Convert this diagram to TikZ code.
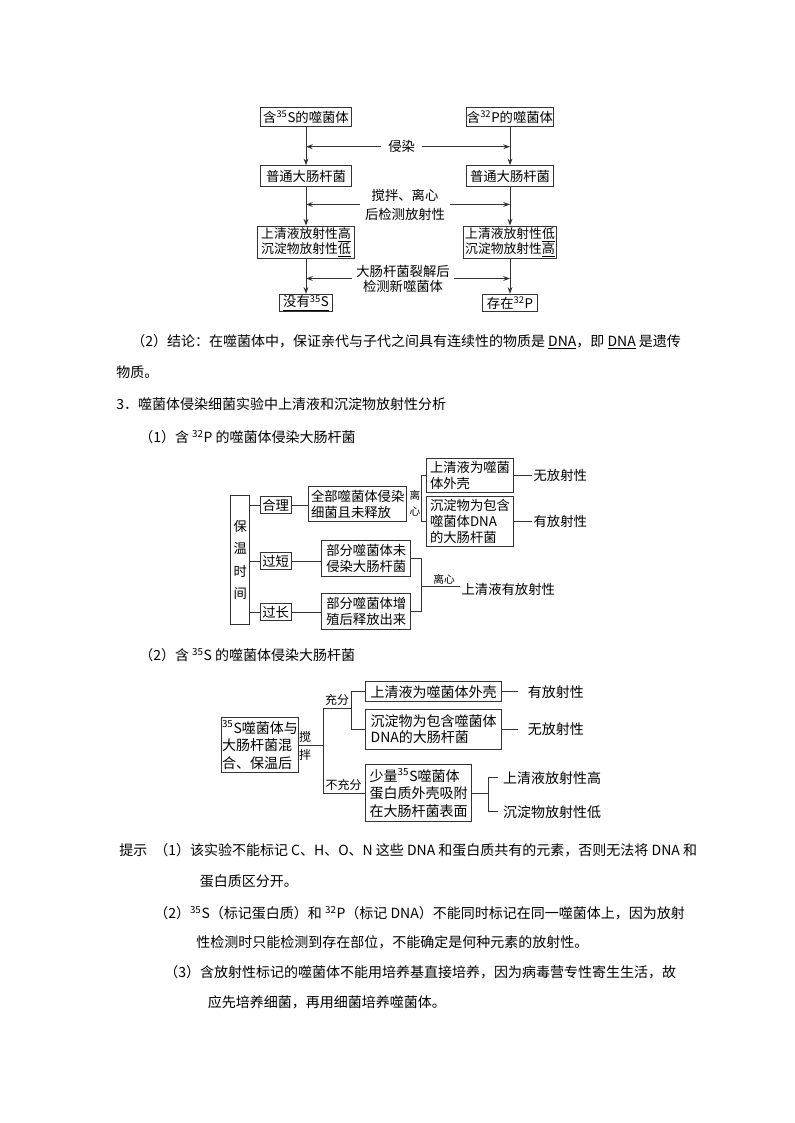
\documentclass[tikz,border=0pt]{standalone}
\usepackage{fontspec}
\setmainfont{Noto Sans CJK SC}
\usetikzlibrary{arrows.meta,calc,positioning}
\newcommand{\fsz}[2]{\fontsize{#1}{#2}\selectfont}
\newcommand{\iso}[2]{\textsuperscript{#1}#2}

\tikzset{
  bx/.style={draw=black!80, line width=0.75pt, inner sep=0pt, align=center},
  ln/.style={draw=black!80, line width=0.75pt},
  ar/.style={ln, -{Stealth[length=5pt,width=3.6pt]}},
  lb/.style={inner sep=0pt, align=center},
  tx/.style={anchor=west, inner sep=0pt, font=\fsz{10.5}{12}},
}

\begin{document}
\begin{tikzpicture}[x=0.75pt,y=-0.75pt]
  \fill[white] (0,0) rectangle (794,1123);

  % 35S / 32P flow
  \node[bx,font=\fsz{10}{12},minimum width=67.7pt,minimum height=14.25pt] (s1) at (306,117.2) {含\iso{35}{S}的噬菌体};
  \node[bx,font=\fsz{10}{12},minimum width=65.5pt,minimum height=14.25pt] (p1) at (510,117.2) {含\iso{32}{P}的噬菌体};
  \node[bx,font=\fsz{10}{12},minimum width=67.7pt,minimum height=15.75pt] (e1) at (306,176.2) {普通大肠杆菌};
  \node[bx,font=\fsz{10}{12},minimum width=65.5pt,minimum height=15.75pt] (e2) at (510,176.2) {普通大肠杆菌};
  \node[bx,font=\fsz{9.6}{11},minimum width=72.75pt,minimum height=24.2pt] (r1) at (306,242.2) {上清液放射性\underline{高}\\沉淀物放射性\underline{低}};
  \node[bx,font=\fsz{9.6}{11},minimum width=70.3pt,minimum height=24.2pt] (r2) at (510,242.2) {上清液放射性\underline{低}\\沉淀物放射性\underline{高}};
  \node[bx,font=\fsz{10}{12},minimum width=39.3pt,minimum height=13pt] (n1) at (306,303) {\underline{没有\iso{35}{S}}};
  \node[bx,font=\fsz{10}{12},minimum width=40.8pt,minimum height=13pt] (n2) at (510,303) {存在\iso{32}{P}};
  \node[lb,font=\fsz{10}{12},inner xsep=5pt] (l1) at (401.7,146.7) {侵染};
  \node[lb,font=\fsz{10}{14.25},inner xsep=3.5pt] (l2) at (405,204.5) {搅拌、离心\\后检测放射性};
  \node[lb,font=\fsz{10}{11.25},inner xsep=3pt] (l3) at (403,278.5) {大肠杆菌裂解后\\检测新噬菌体};
  \draw[ar] (s1) -- (e1);
  \draw[ar] (e1) -- (r1);
  \draw[ar] (r1) -- (n1);
  \draw[ar] (p1) -- (e2);
  \draw[ar] (e2) -- (r2);
  \draw[ar] (r2) -- (n2);
  \foreach \l in {l1,l2,l3} {
    \draw[ar] (\l) -- (\l -| s1);
    \draw[ar] (\l) -- (\l -| p1);
  }

  \node[tx] (t1) at (131,342) {（2）结论：在噬菌体中，保证亲代与子代之间具有连续性的物质是 \underline{DNA}，即 \underline{DNA} 是遗传};
  \node[tx] (t2) at (116,372) {物质。};
  \node[tx] (t3) at (116,404) {3．噬菌体侵染细菌实验中上清液和沉淀物放射性分析};
  \node[tx] (t4) at (139,437) {（1）含 \iso{32}{P} 的噬菌体侵染大肠杆菌};

  % 32P: incubation time
  \node[bx,font=\fsz{10}{16.7},minimum width=14.5pt,minimum height=96.2pt] (bw) at (240.3,560) {保\\温\\时\\间};
  \node[bx,font=\fsz{10}{12},minimum width=23.5pt,minimum height=13pt] (hl) at (275.7,505.3) {合理};
  \node[bx,font=\fsz{10}{12},minimum width=23.5pt,minimum height=13pt] (gd) at (275.7,561.2) {过短};
  \node[bx,font=\fsz{10}{12},minimum width=23.5pt,minimum height=13pt] (gc) at (275.7,612.3) {过长};
  \node[bx,font=\fsz{10}{12},align=left,minimum width=73.5pt,minimum height=26.25pt] (qb) at (357.7,504.2) {全部噬菌体侵染\\细菌且未释放};
  \node[bx,font=\fsz{10}{12},minimum width=67pt,minimum height=26.8pt] (bw1) at (366.3,558.8) {部分噬菌体未\\侵染大肠杆菌};
  \node[bx,font=\fsz{10}{12},minimum width=67pt,minimum height=26.8pt] (bz) at (366.3,611.2) {部分噬菌体增\\殖后释放出来};
  \node[lb,font=\fsz{8}{11.8}] (lx1) at (415,503) {离\\心};
  \node[bx,font=\fsz{10}{12},align=left,minimum width=65pt,minimum height=25.7pt] (sq1) at (470,475.5) {上清液为噬菌\\体外壳};
  \node[bx,font=\fsz{10}{12},align=left,minimum width=65pt,minimum height=37.5pt] (cd1) at (470,521.7) {沉淀物为包含\\噬菌体DNA\\的大肠杆菌};
  \node[lb,anchor=west,font=\fsz{10}{12},inner xsep=1pt] (wf1) at (532,475.5) {无放射性};
  \node[lb,anchor=west,font=\fsz{10}{12},inner xsep=1pt] (yf1) at (532,521.7) {有放射性};
  \coordinate (k1) at (421.7,475.5);
  \coordinate (k2) at (421.7,586.7);
  \node[lb,font=\fsz{8}{10}] (lx2) at (444,579.5) {离心};
  \node[lb,anchor=west,font=\fsz{10}{12},inner xsep=1pt] (sy) at (460,589.5) {上清液有放射性};
  \foreach \n in {hl,gd,gc}
    \draw[ln] (bw.east |- \n.west) -- (\n.west);
  \draw[ln] (hl.east) -- (hl.east -| qb.west);
  \draw[ln] (gd.east) -- (gd.east -| bw1.west);
  \draw[ln] (gc.east) -- (gc.east -| bz.west);
  \draw[ln] (sq1.west) -| (k1) |- (cd1.west);
  \draw[ln] (sq1.east) -- (wf1.west);
  \draw[ln] (cd1.east) -- (yf1.west);
  \draw[ln] (bw1.east) -| (k2) |- (bz.east);
  \draw[ln] (k2) -- (k2 -| sy.west);

  \node[tx] (t5) at (139,655) {（2）含 \iso{35}{S} 的噬菌体侵染大肠杆菌};

  % 35S: stirring
  \node[bx,font=\fsz{10.5}{13.1},align=left,minimum width=57.5pt,minimum height=41pt] (hx) at (260,745) {\iso{35}{S}噬菌体与\\大肠杆菌混\\合、保温后};
  \node[lb,font=\fsz{9}{13.75}] (jb) at (305,746) {搅\\拌};
  \coordinate (k3) at (323.3,745);
  \coordinate (k4) at (351.7,708.3);
  \node[lb,font=\fsz{9}{11}] (cf) at (337,699.5) {充分};
  \node[lb,font=\fsz{9}{11}] (bc) at (343.5,785) {不充分};
  \node[bx,font=\fsz{10.5}{12},minimum width=102pt,minimum height=15pt] (sq2) at (433.7,691.7) {上清液为噬菌体外壳};
  \node[bx,font=\fsz{10.5}{11.8},align=left,minimum width=102pt,minimum height=30pt] (cd2) at (433.7,729) {沉淀物为包含噬菌体\\DNA的大肠杆菌};
  \node[bx,font=\fsz{10.5}{13.1},align=left,minimum width=79.5pt,minimum height=43pt] (sl) at (418.7,793) {少量\iso{35}{S}噬菌体\\蛋白质外壳吸附\\在大肠杆菌表面};
  \node[lb,anchor=west,font=\fsz{10.5}{12},inner xsep=7pt] (yf2) at (518.3,691.7) {有放射性};
  \node[lb,anchor=west,font=\fsz{10.5}{12},inner xsep=7pt] (wf2) at (518.3,729) {无放射性};
  \coordinate (k5) at (488.3,793);
  \node[lb,anchor=west,font=\fsz{10.5}{12},inner xsep=3.5pt] (sg) at (498.3,777.7) {上清液放射性高};
  \node[lb,anchor=west,font=\fsz{10.5}{12},inner xsep=3.5pt] (cdd) at (498.3,811.7) {沉淀物放射性低};
  \draw[ln] (hx.east) -- (k3);
  \draw[ln] (k4) -| (k3) |- (sl.west);
  \draw[ln] (sq2.west) -| (k4) |- (cd2.west);
  \draw[ln] (sq2.east) -- (yf2.west);
  \draw[ln] (cd2.east) -- (wf2.west);
  \draw[ln] (sl.east) -- (k5);
  \draw[ln] (sg.west) -| (k5) |- (cdd.west);

  \node[tx] (h0) at (119,850) {提示};
  \node[tx] (h1) at (154,850) {（1）该实验不能标记 C、H、O、N 这些 DNA 和蛋白质共有的元素，否则无法将 DNA 和};
  \node[tx] (h2) at (199.5,881.7) {蛋白质区分开。};
  \node[tx] (h3) at (154,913) {（2）\iso{35}{S}（标记蛋白质）和 \iso{32}{P}（标记 DNA）不能同时标记在同一噬菌体上，因为放射};
  \node[tx] (h4) at (196,942) {性检测时只能检测到存在部位，不能确定是何种元素的放射性。};
  \node[tx] (h5) at (164,972) {（3）含放射性标记的噬菌体不能用培养基直接培养，因为病毒营专性寄生生活，故};
  \node[tx] (h6) at (207.5,1002) {应先培养细菌，再用细菌培养噬菌体。};
\end{tikzpicture}
\end{document}
